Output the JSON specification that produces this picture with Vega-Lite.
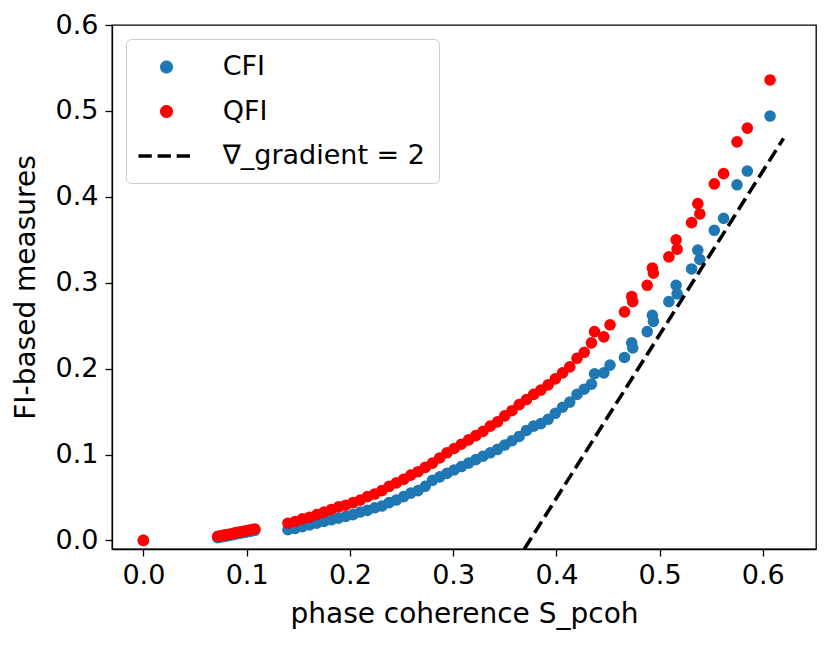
{
  "$schema": "https://vega.github.io/schema/vega-lite/v6.json",
  "width": 704,
  "height": 524,
  "autosize": {"type": "none"},
  "padding": {"left": 112, "top": 25, "right": 14, "bottom": 99},
  "config": {
    "font": "DejaVu Sans",
    "view": {"stroke": "black", "strokeWidth": 1.3},
    "legend": {
      "orient": "top-left", "offset": 14, "padding": 14,
      "fillColor": "rgba(255,255,255,0.8)", "strokeColor": "#cccccc", "cornerRadius": 5,
      "labelFontSize": 27, "labelColor": "black", "labelLimit": 400, "labelOffset": 54.7,
      "rowPadding": 17.5, "symbolSize": 548, "symbolStrokeWidth": 3.6, "symbolOpacity": 1
    }
  },
  "datasets": {
    "pts": [
      {"s": 0.0, "fi": 0.0, "m": "CFI"},
      {"s": 0.072, "fi": 0.0032, "m": "CFI"}, {"s": 0.075, "fi": 0.0039, "m": "CFI"}, {"s": 0.078, "fi": 0.0046, "m": "CFI"},
      {"s": 0.081, "fi": 0.0053, "m": "CFI"}, {"s": 0.084, "fi": 0.006, "m": "CFI"}, {"s": 0.087, "fi": 0.0068, "m": "CFI"},
      {"s": 0.09, "fi": 0.0075, "m": "CFI"}, {"s": 0.093, "fi": 0.0082, "m": "CFI"}, {"s": 0.096, "fi": 0.0089, "m": "CFI"},
      {"s": 0.099, "fi": 0.0096, "m": "CFI"}, {"s": 0.102, "fi": 0.0103, "m": "CFI"}, {"s": 0.105, "fi": 0.0111, "m": "CFI"},
      {"s": 0.108, "fi": 0.0118, "m": "CFI"},
      {"s": 0.14, "fi": 0.0125, "m": "CFI"}, {"s": 0.147, "fi": 0.014, "m": "CFI"}, {"s": 0.154, "fi": 0.016, "m": "CFI"},
      {"s": 0.161, "fi": 0.018, "m": "CFI"}, {"s": 0.168, "fi": 0.02, "m": "CFI"}, {"s": 0.175, "fi": 0.022, "m": "CFI"},
      {"s": 0.182, "fi": 0.024, "m": "CFI"}, {"s": 0.189, "fi": 0.026, "m": "CFI"}, {"s": 0.196, "fi": 0.028, "m": "CFI"},
      {"s": 0.203, "fi": 0.03, "m": "CFI"}, {"s": 0.21, "fi": 0.033, "m": "CFI"}, {"s": 0.217, "fi": 0.035, "m": "CFI"},
      {"s": 0.224, "fi": 0.038, "m": "CFI"}, {"s": 0.231, "fi": 0.04, "m": "CFI"}, {"s": 0.238, "fi": 0.044, "m": "CFI"},
      {"s": 0.245, "fi": 0.047, "m": "CFI"}, {"s": 0.252, "fi": 0.051, "m": "CFI"}, {"s": 0.259, "fi": 0.055, "m": "CFI"},
      {"s": 0.266, "fi": 0.058, "m": "CFI"}, {"s": 0.273, "fi": 0.063, "m": "CFI"}, {"s": 0.28, "fi": 0.07, "m": "CFI"},
      {"s": 0.287, "fi": 0.074, "m": "CFI"}, {"s": 0.294, "fi": 0.078, "m": "CFI"}, {"s": 0.301, "fi": 0.082, "m": "CFI"},
      {"s": 0.308, "fi": 0.086, "m": "CFI"}, {"s": 0.315, "fi": 0.09, "m": "CFI"}, {"s": 0.322, "fi": 0.094, "m": "CFI"},
      {"s": 0.329, "fi": 0.098, "m": "CFI"}, {"s": 0.336, "fi": 0.102, "m": "CFI"}, {"s": 0.343, "fi": 0.106, "m": "CFI"},
      {"s": 0.35, "fi": 0.111, "m": "CFI"}, {"s": 0.357, "fi": 0.116, "m": "CFI"}, {"s": 0.364, "fi": 0.121, "m": "CFI"},
      {"s": 0.371, "fi": 0.128, "m": "CFI"}, {"s": 0.378, "fi": 0.133, "m": "CFI"}, {"s": 0.385, "fi": 0.136, "m": "CFI"},
      {"s": 0.392, "fi": 0.141, "m": "CFI"}, {"s": 0.399, "fi": 0.148, "m": "CFI"}, {"s": 0.406, "fi": 0.155, "m": "CFI"},
      {"s": 0.413, "fi": 0.161, "m": "CFI"}, {"s": 0.42, "fi": 0.17, "m": "CFI"}, {"s": 0.427, "fi": 0.176, "m": "CFI"},
      {"s": 0.434, "fi": 0.182, "m": "CFI"}, {"s": 0.437, "fi": 0.194, "m": "CFI"}, {"s": 0.446, "fi": 0.195, "m": "CFI"},
      {"s": 0.452, "fi": 0.204, "m": "CFI"}, {"s": 0.466, "fi": 0.213, "m": "CFI"}, {"s": 0.474, "fi": 0.224, "m": "CFI"},
      {"s": 0.473, "fi": 0.23, "m": "CFI"}, {"s": 0.488, "fi": 0.243, "m": "CFI"}, {"s": 0.494, "fi": 0.255, "m": "CFI"},
      {"s": 0.493, "fi": 0.262, "m": "CFI"}, {"s": 0.509, "fi": 0.278, "m": "CFI"}, {"s": 0.517, "fi": 0.287, "m": "CFI"},
      {"s": 0.516, "fi": 0.297, "m": "CFI"}, {"s": 0.531, "fi": 0.316, "m": "CFI"}, {"s": 0.539, "fi": 0.327, "m": "CFI"},
      {"s": 0.537, "fi": 0.338, "m": "CFI"}, {"s": 0.553, "fi": 0.361, "m": "CFI"}, {"s": 0.562, "fi": 0.375, "m": "CFI"},
      {"s": 0.575, "fi": 0.414, "m": "CFI"}, {"s": 0.585, "fi": 0.43, "m": "CFI"}, {"s": 0.607, "fi": 0.494, "m": "CFI"},

      {"s": 0.0, "fi": 0.0, "m": "QFI"},
      {"s": 0.072, "fi": 0.0047, "m": "QFI"}, {"s": 0.075, "fi": 0.0054, "m": "QFI"}, {"s": 0.078, "fi": 0.0061, "m": "QFI"},
      {"s": 0.081, "fi": 0.0068, "m": "QFI"}, {"s": 0.084, "fi": 0.0075, "m": "QFI"}, {"s": 0.087, "fi": 0.0083, "m": "QFI"},
      {"s": 0.09, "fi": 0.009, "m": "QFI"}, {"s": 0.093, "fi": 0.0097, "m": "QFI"}, {"s": 0.096, "fi": 0.0104, "m": "QFI"},
      {"s": 0.099, "fi": 0.0111, "m": "QFI"}, {"s": 0.102, "fi": 0.0118, "m": "QFI"}, {"s": 0.105, "fi": 0.0126, "m": "QFI"},
      {"s": 0.108, "fi": 0.0133, "m": "QFI"},
      {"s": 0.14, "fi": 0.02, "m": "QFI"}, {"s": 0.147, "fi": 0.022, "m": "QFI"}, {"s": 0.154, "fi": 0.025, "m": "QFI"},
      {"s": 0.161, "fi": 0.027, "m": "QFI"}, {"s": 0.168, "fi": 0.03, "m": "QFI"}, {"s": 0.175, "fi": 0.033, "m": "QFI"},
      {"s": 0.182, "fi": 0.036, "m": "QFI"}, {"s": 0.189, "fi": 0.039, "m": "QFI"}, {"s": 0.196, "fi": 0.041, "m": "QFI"},
      {"s": 0.203, "fi": 0.044, "m": "QFI"}, {"s": 0.21, "fi": 0.047, "m": "QFI"}, {"s": 0.217, "fi": 0.051, "m": "QFI"},
      {"s": 0.224, "fi": 0.054, "m": "QFI"}, {"s": 0.231, "fi": 0.058, "m": "QFI"}, {"s": 0.238, "fi": 0.063, "m": "QFI"},
      {"s": 0.245, "fi": 0.067, "m": "QFI"}, {"s": 0.252, "fi": 0.071, "m": "QFI"}, {"s": 0.259, "fi": 0.076, "m": "QFI"},
      {"s": 0.266, "fi": 0.08, "m": "QFI"}, {"s": 0.273, "fi": 0.085, "m": "QFI"}, {"s": 0.28, "fi": 0.09, "m": "QFI"},
      {"s": 0.287, "fi": 0.096, "m": "QFI"}, {"s": 0.294, "fi": 0.102, "m": "QFI"}, {"s": 0.301, "fi": 0.107, "m": "QFI"},
      {"s": 0.308, "fi": 0.112, "m": "QFI"}, {"s": 0.315, "fi": 0.117, "m": "QFI"}, {"s": 0.322, "fi": 0.122, "m": "QFI"},
      {"s": 0.329, "fi": 0.127, "m": "QFI"}, {"s": 0.336, "fi": 0.133, "m": "QFI"}, {"s": 0.343, "fi": 0.138, "m": "QFI"},
      {"s": 0.35, "fi": 0.145, "m": "QFI"}, {"s": 0.357, "fi": 0.151, "m": "QFI"}, {"s": 0.364, "fi": 0.158, "m": "QFI"},
      {"s": 0.371, "fi": 0.164, "m": "QFI"}, {"s": 0.378, "fi": 0.17, "m": "QFI"}, {"s": 0.385, "fi": 0.175, "m": "QFI"},
      {"s": 0.392, "fi": 0.181, "m": "QFI"}, {"s": 0.399, "fi": 0.188, "m": "QFI"}, {"s": 0.406, "fi": 0.195, "m": "QFI"},
      {"s": 0.413, "fi": 0.202, "m": "QFI"}, {"s": 0.42, "fi": 0.212, "m": "QFI"}, {"s": 0.427, "fi": 0.219, "m": "QFI"},
      {"s": 0.434, "fi": 0.23, "m": "QFI"}, {"s": 0.437, "fi": 0.243, "m": "QFI"}, {"s": 0.446, "fi": 0.237, "m": "QFI"},
      {"s": 0.452, "fi": 0.251, "m": "QFI"}, {"s": 0.466, "fi": 0.266, "m": "QFI"}, {"s": 0.474, "fi": 0.278, "m": "QFI"},
      {"s": 0.473, "fi": 0.284, "m": "QFI"}, {"s": 0.488, "fi": 0.297, "m": "QFI"}, {"s": 0.494, "fi": 0.311, "m": "QFI"},
      {"s": 0.493, "fi": 0.317, "m": "QFI"}, {"s": 0.509, "fi": 0.33, "m": "QFI"}, {"s": 0.517, "fi": 0.339, "m": "QFI"},
      {"s": 0.516, "fi": 0.35, "m": "QFI"}, {"s": 0.531, "fi": 0.37, "m": "QFI"}, {"s": 0.539, "fi": 0.38, "m": "QFI"},
      {"s": 0.537, "fi": 0.392, "m": "QFI"}, {"s": 0.553, "fi": 0.415, "m": "QFI"}, {"s": 0.562, "fi": 0.427, "m": "QFI"},
      {"s": 0.575, "fi": 0.464, "m": "QFI"}, {"s": 0.585, "fi": 0.48, "m": "QFI"}, {"s": 0.607, "fi": 0.536, "m": "QFI"}
    ],
    "ref": [
      {"s": 0.369, "fi": -0.01},
      {"s": 0.62, "fi": 0.468}
    ]
  },
  "layer": [
    {
      "data": {"name": "pts"},
      "mark": {"type": "circle", "size": 135, "opacity": 1},
      "encoding": {
        "x": {
          "field": "s", "type": "quantitative",
          "scale": {"domain": [-0.0304, 0.6515], "nice": false, "zero": false},
          "axis": {
            "values": [0, 0.1, 0.2, 0.3, 0.4, 0.5, 0.6], "format": ".1f", "grid": false,
            "labelFontSize": 27, "labelColor": "black", "labelPadding": 6,
            "tickSize": 7, "tickWidth": 1.3, "tickColor": "black",
            "domainColor": "black", "domainWidth": 1.3,
            "title": "phase coherence S_pcoh", "titleFontSize": 28, "titleFontWeight": "normal",
            "titleColor": "black", "titlePadding": 12
          }
        },
        "y": {
          "field": "fi", "type": "quantitative",
          "scale": {"domain": [-0.01, 0.6], "nice": false, "zero": false},
          "axis": {
            "values": [0, 0.1, 0.2, 0.3, 0.4, 0.5, 0.6], "format": ".1f", "grid": false,
            "labelFontSize": 27, "labelColor": "black", "labelPadding": 7,
            "tickSize": 7, "tickWidth": 1.3, "tickColor": "black",
            "domainColor": "black", "domainWidth": 1.3,
            "title": "FI-based measures", "titleFontSize": 28, "titleFontWeight": "normal",
            "titleColor": "black", "titlePadding": 15
          }
        },
        "color": {
          "field": "m", "type": "nominal",
          "scale": {"domain": ["CFI", "QFI"], "range": ["#1f77b4", "#ff0000"]},
          "legend": null
        }
      }
    },
    {
      "data": {"name": "pts"},
      "mark": {"type": "point", "filled": true, "opacity": 0},
      "encoding": {
        "x": {"field": "s", "type": "quantitative"},
        "y": {"field": "fi", "type": "quantitative"},
        "fill": {
          "field": "m", "type": "nominal",
          "scale": {"domain": ["CFI", "QFI", "∇_gradient = 2"], "range": ["#1f77b4", "#ff0000", "transparent"]},
          "legend": {"title": null}
        },
        "stroke": {
          "field": "m", "type": "nominal",
          "scale": {"domain": ["CFI", "QFI", "∇_gradient = 2"], "range": ["#1f77b4", "#ff0000", "#000000"]},
          "legend": {"title": null}
        },
        "shape": {
          "field": "m", "type": "nominal",
          "scale": {"domain": ["CFI", "QFI", "∇_gradient = 2"], "range": ["M0.666,0A0.402,0.402 0 1,0 1.47,0A0.402,0.402 0 1,0 0.666,0Z", "M0.666,0A0.402,0.402 0 1,0 1.47,0A0.402,0.402 0 1,0 0.666,0Z", "M-1.325,0H3.376"]},
          "legend": {"title": null}
        },
        "strokeDash": {
          "field": "m", "type": "nominal",
          "scale": {"domain": ["CFI", "QFI", "∇_gradient = 2"], "range": [[1, 0], [1, 0], [13.3, 5.8]]},
          "legend": {"title": null}
        }
      }
    },
    {
      "data": {"name": "ref"},
      "mark": {"type": "line", "color": "black", "strokeWidth": 3.6, "strokeDash": [13.3, 5.8], "clip": true},
      "encoding": {
        "x": {"field": "s", "type": "quantitative"},
        "y": {"field": "fi", "type": "quantitative"}
      }
    }
  ]
}
